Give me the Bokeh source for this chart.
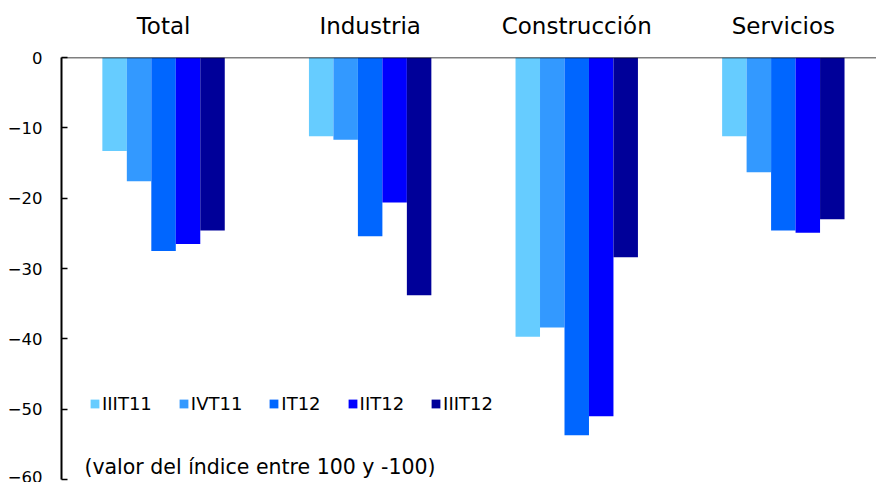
from bokeh.plotting import figure
from bokeh.models import (ColumnDataSource, Range1d, FixedTicker, Span, Legend,
                          LegendItem, Label, LinearAxis)
from bokeh.transform import dodge
from bokeh.embed import file_html
from bokeh.resources import INLINE

# ---- data ----
categories = ["Total", "Industria", "Construcción", "Servicios"]
series = ["IIIT11", "IVT11", "IT12", "IIT12", "IIIT12"]
iiit11 = [-13.3, -11.2, -39.7, -11.2]
ivt11 = [-17.6, -11.7, -38.4, -16.3]
it12 = [-27.5, -25.4, -53.7, -24.6]
iit12 = [-26.5, -20.6, -51.0, -24.9]
iiit12 = [-24.6, -33.8, -28.4, -23.0]
y_ticks = [0, -10, -20, -30, -40, -50, -60]
note = "(valor del índice entre 100 y -100)"

colors = ["#66CCFF", "#3399FF", "#0066FF", "#0000FF", "#000099"]
FONT = "DejaVu Sans"

pos = [i + 0.5 for i in range(len(categories))]
source = ColumnDataSource(dict(pos=pos, cat=categories, IIIT11=iiit11, IVT11=ivt11,
                               IT12=it12, IIT12=iit12, IIIT12=iiit12))

p = figure(width=876, height=482, output_backend="svg", toolbar_location=None,
           x_range=Range1d(0.006, 3.951), y_range=Range1d(-60, 0),
           x_axis_location=None, min_border_left=61, min_border_top=57,
           min_border_right=0, min_border_bottom=3)
p.outline_line_color = None
p.xgrid.grid_line_color = None
p.ygrid.grid_line_color = None
p.background_fill_color = "white"

bw = 0.1185
renderers = []
for k, (name, col) in enumerate(zip(series, colors)):
    off = (k - 2) * bw
    r = p.vbar(x=dodge("pos", off, range=p.x_range), top=name, bottom=0, width=bw,
               source=source, fill_color=col, line_color=None)
    renderers.append((name, r))

# top category labels
top_axis = LinearAxis(ticker=FixedTicker(ticks=pos),
                      major_label_overrides={x: c for x, c in zip(pos, categories)})
top_axis.axis_line_color = None
top_axis.major_tick_line_color = None
top_axis.minor_tick_line_color = None
top_axis.major_label_text_font = FONT
top_axis.major_label_text_font_size = "23px"
top_axis.major_label_text_color = "black"
top_axis.major_label_standoff = 13
p.add_layout(top_axis, "above")

# y axis
yax = p.yaxis[0]
yax.ticker = FixedTicker(ticks=y_ticks)
yax.axis_line_color = "black"
yax.axis_line_width = 2
yax.major_tick_in = 6
yax.major_tick_out = 0
yax.major_tick_line_color = "black"
yax.major_tick_line_width = 1.5
yax.minor_tick_line_color = None
yax.major_label_text_font = FONT
yax.major_label_text_font_size = "16.5px"
yax.major_label_text_color = "black"
yax.major_label_standoff = 19

p.add_layout(Span(location=0, dimension="width", line_color="black", line_width=1.5))

legend = Legend(items=[LegendItem(label=n, renderers=[r]) for n, r in renderers],
                orientation="horizontal", location=(28, 65),
                glyph_width=11, glyph_height=11, label_standoff=2, spacing=26,
                padding=0, margin=0, border_line_color=None,
                background_fill_alpha=0,
                label_text_font=FONT, label_text_font_size="18px",
                label_text_color="black")
p.add_layout(legend)

p.add_layout(Label(x=0.117, y=-58.2, text=note, text_font=FONT,
                   text_font_size="20.5px", text_color="black",
                   text_baseline="middle"))

open("out.html", "w").write(file_html(p, INLINE))
